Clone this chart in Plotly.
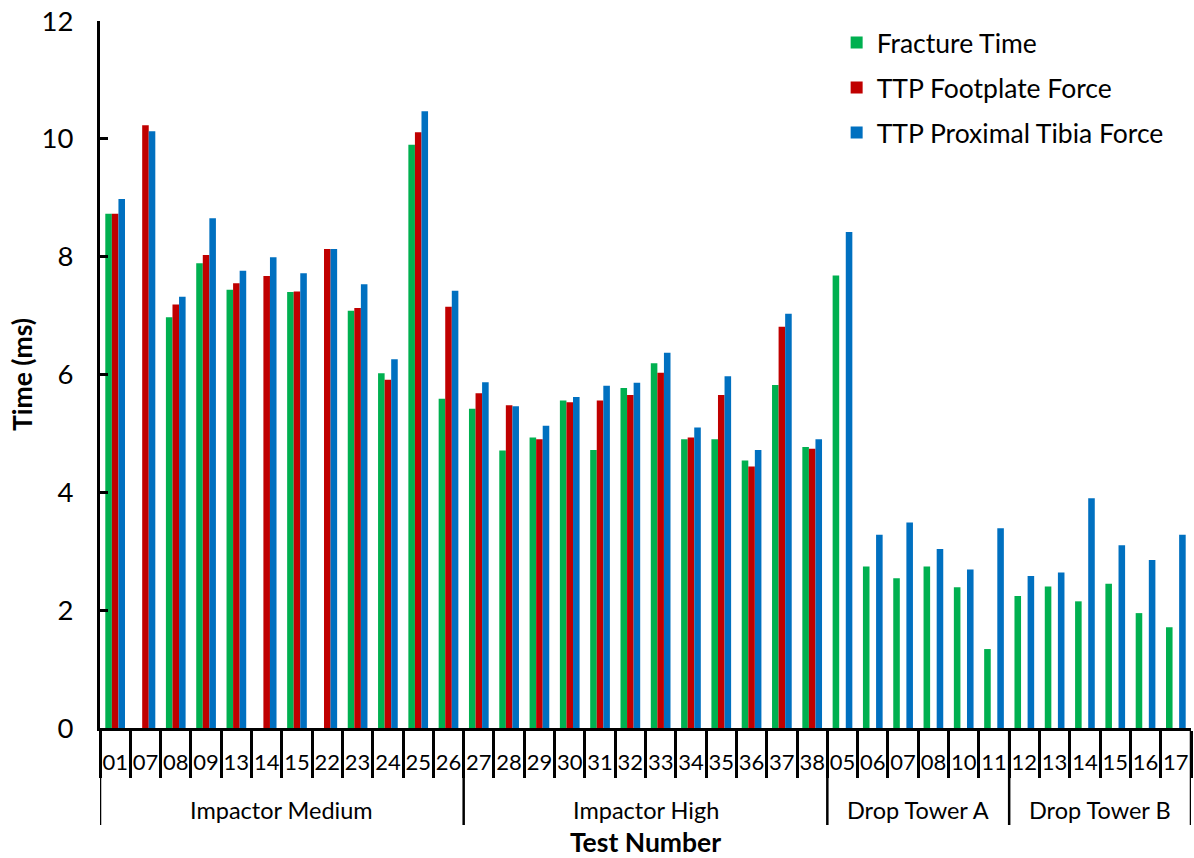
import plotly.graph_objects as go

# Test groups and test numbers (in plotting order)
groups = ["Impactor Medium", "Impactor High", "Drop Tower A", "Drop Tower B"]
group_sizes = [12, 12, 6, 6]
tests = [
    "01", "07", "08", "09", "13", "14", "15", "22", "23", "24", "25", "26",
    "27", "28", "29", "30", "31", "32", "33", "34", "35", "36", "37", "38",
    "05", "06", "07", "08", "10", "11",
    "12", "13", "14", "15", "16", "17",
]

# Times in ms (None = not recorded)
fracture_time = [
    8.73, None, 6.97, 7.89, 7.44, None, 7.40, None, 7.08, 6.02, 9.90, 5.59,
    5.42, 4.71, 4.93, 5.56, 4.72, 5.77, 6.19, 4.90, 4.90, 4.54, 5.82, 4.77,
    7.68, 2.74, 2.54, 2.74, 2.39, 1.34,
    2.24, 2.40, 2.15, 2.45, 1.95, 1.71,
]
ttp_footplate = [
    8.73, 10.23, 7.19, 8.03, 7.55, 7.67, 7.41, 8.13, 7.13, 5.91, 10.11, 7.15,
    5.68, 5.48, 4.90, 5.53, 5.56, 5.65, 6.03, 4.93, 5.65, 4.44, 6.81, 4.74,
    None, None, None, None, None, None,
    None, None, None, None, None, None,
]
ttp_tibia = [
    8.98, 10.13, 7.32, 8.65, 7.76, 7.99, 7.72, 8.13, 7.53, 6.26, 10.47, 7.42,
    5.87, 5.46, 5.13, 5.62, 5.81, 5.86, 6.37, 5.10, 5.97, 4.72, 7.03, 4.90,
    8.42, 3.28, 3.49, 3.04, 2.69, 3.39,
    2.58, 2.64, 3.90, 3.10, 2.85, 3.28,
]

series = [
    ("Fracture Time", fracture_time, "#00B050"),
    ("TTP Footplate Force", ttp_footplate, "#C00000"),
    ("TTP Proximal Tibia Force", ttp_tibia, "#0070C0"),
]

FONT = "Lato, 'Open Sans', sans-serif"
pos = list(range(len(tests)))

fig = go.Figure()
for name, vals, color in series:
    fig.add_trace(go.Bar(
        x=pos, y=vals, name=name, legendgroup=name,
        marker=dict(color=color, line=dict(width=0)),
    ))

# group boundaries and centres in category units
bounds = [-0.5]
for n in group_sizes:
    bounds.append(bounds[-1] + n)
centres = [(a + b) / 2 for a, b in zip(bounds[:-1], bounds[1:])]

plot_h = 858 - 21 - 130
shapes = [
    dict(type="line", xref="x", yref="paper", x0=b, x1=b,
         y0=0, y1=-97 / plot_h, line=dict(color="black", width=2.5))
    for b in bounds
]
annotations = [
    dict(x=c, y=-82 / plot_h, xref="x", yref="paper", text=g,
         showarrow=False, font=dict(size=23.5, color="black", family=FONT),
         xanchor="center", yanchor="middle")
    for c, g in zip(centres, groups)
]

fig.update_layout(
    width=1194, height=858,
    margin=dict(l=100, r=3, t=21, b=130, autoexpand=False),
    paper_bgcolor="white", plot_bgcolor="white",
    font=dict(family=FONT, color="black"),
    barmode="group", bargap=0.35, bargroupgap=0,
    showlegend=True,
    legend=dict(
        x=0.6752, y=1.003, xanchor="left", yanchor="top",
        font=dict(size=26.5, color="black", family=FONT),
        tracegroupgap=7.5, bgcolor="rgba(0,0,0,0)",
    ),
    shapes=shapes,
    annotations=annotations,
    xaxis=dict(
        range=[-0.5, 35.5], tickmode="array", tickvals=pos, ticktext=tests,
        ticks="", showgrid=False, zeroline=False,
        showline=True, linecolor="black", linewidth=2.5,
        tickfont=dict(size=22, color="black", family=FONT),
        ticklabelstandoff=13,
        minor=dict(tick0=-0.5, dtick=1, ticks="outside", ticklen=47,
                   tickwidth=2.5, tickcolor="black", showgrid=False),
        title=dict(text="<b>Test Number</b>", standoff=63,
                   font=dict(size=26.5, color="black", family=FONT)),
    ),
    yaxis=dict(
        range=[0, 12], dtick=2, tick0=0,
        ticks="inside", ticklen=8, tickwidth=3, tickcolor="black",
        showgrid=False, zeroline=False,
        showline=True, linecolor="black", linewidth=3,
        tickfont=dict(size=27.5, color="black", family=FONT),
        ticklabelstandoff=18,
        title=dict(text="<b>Time (ms)</b>", standoff=2,
                   font=dict(size=26.5, color="black", family=FONT)),
    ),
)

fig.write_html("out.html")
